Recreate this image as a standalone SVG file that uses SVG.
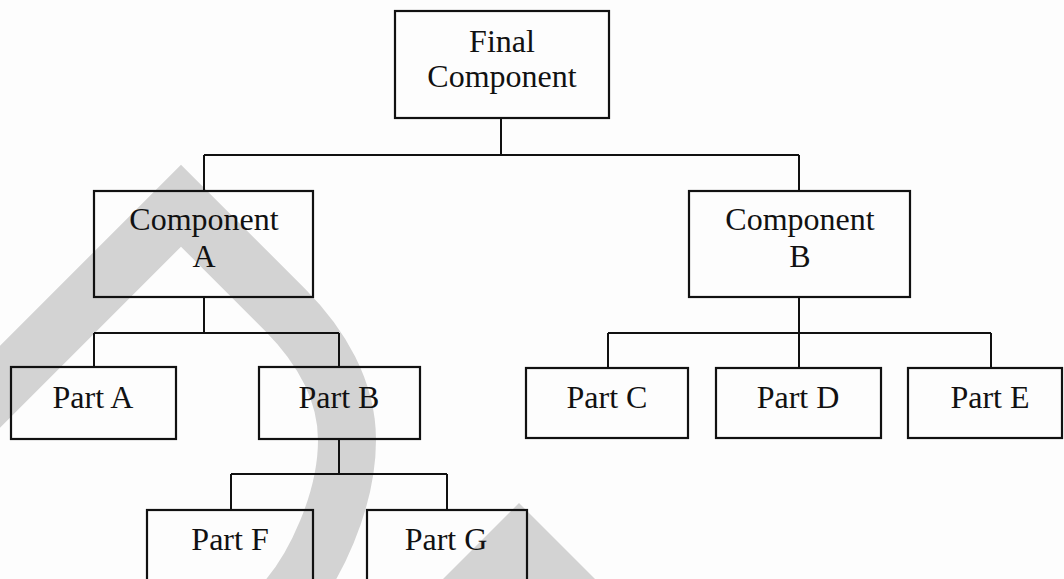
<svg xmlns="http://www.w3.org/2000/svg" width="1064" height="579" viewBox="0 0 1064 579">
  <style>
    .box { fill: none; stroke: #111; stroke-width: 2.2; }
    .conn { fill: none; stroke: #111; stroke-width: 2; }
    .lbl { font-family: "Liberation Serif", "Times New Roman", serif; font-size: 32px; fill: #111; text-anchor: middle; }
    .wm { fill: none; stroke: #d3d3d3; stroke-width: 58; stroke-linejoin: miter; }
  </style>
  <rect x="0" y="0" width="1064" height="579" fill="#fdfdfd"/>
  <g id="watermark">
    <path class="wm" d="M -30 416.7 L 181 205.7 L 285 309.7 C 320 345 347 390 347 440 C 347 500 315 570 282 605"/>
    <polygon points="519,503 600,584 438,584" fill="#d3d3d3"/>
  </g>
  <g id="connectors">
    <path class="conn" d="M 501 118 V 155 M 204 155 H 799 M 204 155 V 191 M 799 155 V 191"/>
    <path class="conn" d="M 204 297 V 333 M 94 333 H 339 M 94 333 V 367 M 339 333 V 367"/>
    <path class="conn" d="M 339 439 V 474 M 231 474 H 447 M 231 474 V 510 M 447 474 V 510"/>
    <path class="conn" d="M 799 297 V 333 M 608 333 H 991 M 608 333 V 368 M 799 333 V 368 M 991 333 V 368"/>
  </g>
  <g id="final-component">
    <rect class="box" x="395" y="11" width="214" height="107"/>
    <text class="lbl" x="502" y="52">Final</text>
    <text class="lbl" x="502" y="87">Component</text>
  </g>
  <g id="component-a">
    <rect class="box" x="94" y="191" width="219" height="106"/>
    <text class="lbl" x="204" y="230">Component</text>
    <text class="lbl" x="204" y="267">A</text>
  </g>
  <g id="component-b">
    <rect class="box" x="689" y="191" width="221" height="106"/>
    <text class="lbl" x="800" y="230">Component</text>
    <text class="lbl" x="800" y="267">B</text>
  </g>
  <g id="part-a">
    <rect class="box" x="11" y="367" width="165" height="72"/>
    <text class="lbl" x="93" y="408">Part A</text>
  </g>
  <g id="part-b">
    <rect class="box" x="259" y="367" width="161" height="72"/>
    <text class="lbl" x="339" y="408">Part B</text>
  </g>
  <g id="part-c">
    <rect class="box" x="526" y="368" width="162" height="70"/>
    <text class="lbl" x="607" y="408">Part C</text>
  </g>
  <g id="part-d">
    <rect class="box" x="716" y="368" width="165" height="70"/>
    <text class="lbl" x="798" y="408">Part D</text>
  </g>
  <g id="part-e">
    <rect class="box" x="908" y="368" width="154" height="70"/>
    <text class="lbl" x="990" y="408">Part E</text>
  </g>
  <g id="part-f">
    <rect class="box" x="147" y="510" width="166" height="90"/>
    <text class="lbl" x="230" y="550">Part F</text>
  </g>
  <g id="part-g">
    <rect class="box" x="367" y="510" width="160" height="90"/>
    <text class="lbl" x="446" y="550">Part G</text>
  </g>
</svg>
